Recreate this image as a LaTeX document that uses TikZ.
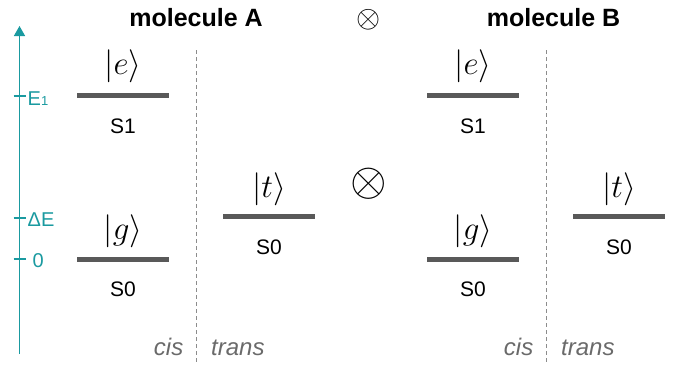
\RequirePackage{fix-cm}
\documentclass[tikz,border=0pt]{standalone}
\usepackage{fontspec}
\setmainfont{Liberation Sans}
\usetikzlibrary{arrows.meta}
\definecolor{axiscol}{HTML}{1A9AA0}
\definecolor{levcol}{HTML}{595959}
\definecolor{dashcol}{HTML}{8C8C8C}
\definecolor{confcol}{HTML}{6A6A6A}
\tikzset{
  lev/.style={draw=levcol, line width=4.5pt},
  sep/.style={draw=dashcol, line width=0.9pt, dash pattern=on 4pt off 3pt},
  ket/.style={font=\fontsize{33}{33}\selectfont, inner sep=0pt, anchor=base},
  slab/.style={font=\fontsize{21}{21}\selectfont, inner sep=0pt, anchor=base},
  title/.style={font=\fontsize{25}{25}\selectfont\bfseries, inner sep=0pt, anchor=base},
  conf/.style={font=\fontsize{24}{24}\selectfont\itshape, text=confcol, inner sep=0pt},
  elab/.style={font=\fontsize{20}{20}\selectfont, text=axiscol, inner sep=0pt, anchor=base west},
  tick/.style={draw=axiscol, line width=1.2pt}
}
\begin{document}
\begin{tikzpicture}[x=1pt,y=-1pt]
\useasboundingbox (0,0) rectangle (674,364);
% axis
\coordinate (ab) at (19.5,354);
\coordinate (at) at (19.5,26);
\draw[axiscol, line width=1.6pt, -{Triangle[length=10pt,width=11pt]}] (ab) -- (at);
\foreach \y/\n in {96/e1,218/de,259/zero}{
  \coordinate (t\n l) at (13.5,\y);
  \coordinate (t\n r) at (25.5,\y);
  \draw[tick] (t\n l) -- (t\n r);
}
\node[elab] (le1) at (27.5,105) {E{\fontsize{13}{13}\selectfont 1}};
\node[elab] (lde) at (27.5,226) {ΔE};
\node[elab] (l0) at (32.5,267) {0};
% titles
\node[title] (tA) at (196,27) {molecule A};
\node[title] (tB) at (553.5,27) {molecule B};
\node[inner sep=0pt, font=\fontsize{31}{31}\selectfont] (ot1) at (368.5,20) {$\otimes$};
\node[inner sep=0pt, font=\fontsize{47}{47}\selectfont] (ot2) at (369,184) {$\otimes$};
% molecule A / B
\foreach \dx/\m in {0/A,350/B}{
  \begin{scope}[xshift=\dx]
  \coordinate (e\m l) at (77,95.5); \coordinate (e\m r) at (169,95.5);
  \coordinate (g\m l) at (77,259.5); \coordinate (g\m r) at (169,259.5);
  \coordinate (t\m l) at (223,216.5); \coordinate (t\m r) at (315,216.5);
  \draw[lev] (e\m l) -- (e\m r);
  \draw[lev] (g\m l) -- (g\m r);
  \draw[lev] (t\m l) -- (t\m r);
  \node[ket] (ke\m) at (123,74) {$|e\rangle$};
  \node[slab] (se\m) at (123,133) {S1};
  \node[ket] (kg\m) at (123,239) {$|g\rangle$};
  \node[slab] (sg\m) at (123,296) {S0};
  \node[ket] (kt\m) at (269,197) {$|t\rangle$};
  \node[slab] (st\m) at (269,254) {S0};
  \coordinate (d\m t) at (196,50); \coordinate (d\m b) at (196,362);
  \draw[sep] (d\m t) -- (d\m b);
  \node[conf, anchor=base east] (cis\m) at (183.5,355) {cis};
  \node[conf, anchor=base west] (tr\m) at (211,355) {trans};
  \end{scope}
}
\end{tikzpicture}
\end{document}
